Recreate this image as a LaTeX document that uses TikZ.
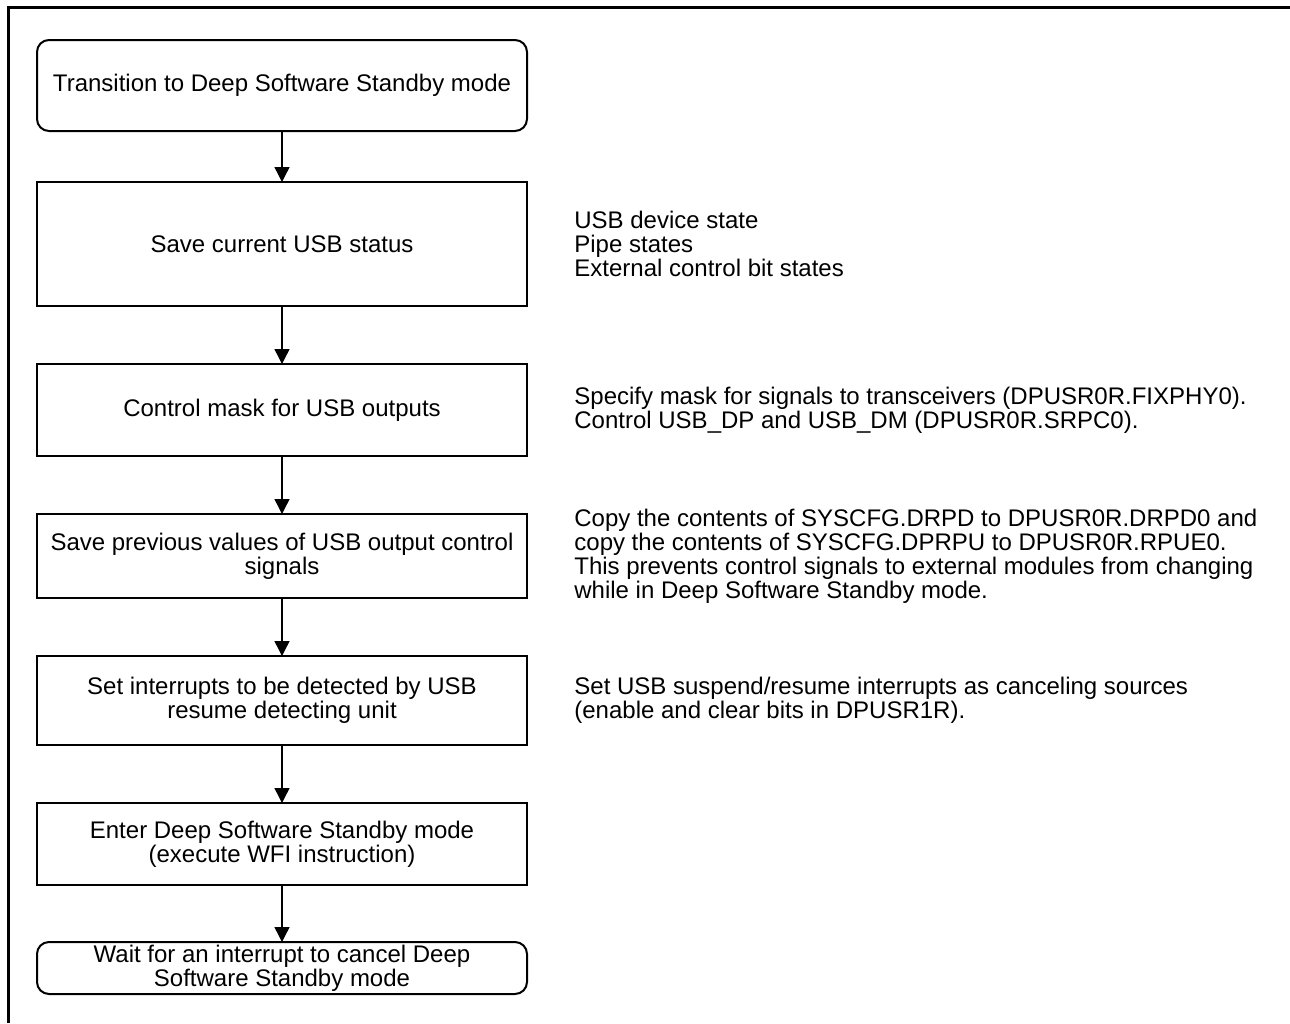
\documentclass[tikz,border=0pt]{standalone}
\usepackage{fontspec}
\setmainfont{Liberation Sans}
\usetikzlibrary{arrows.meta,positioning}

\begin{document}
\begin{tikzpicture}[
  x=0.5pt, y=-0.5pt,
  base/.style={draw, line width=1pt, minimum width=245pt, align=center,
    font=\fontsize{12}{12}\selectfont, inner xsep=2pt, inner ysep=1pt, outer sep=0pt},
  stepbox/.style={base},
  endbox/.style={base, rounded corners=6pt},
  note/.style={align=left, font=\fontsize{12}{12}\selectfont, inner sep=0pt},
  arr/.style={-{Triangle[length=7.5pt, width=7.5pt]}, line width=0.7pt},
  frame/.style={line width=1.5pt},
  node distance=29pt,
]

\useasboundingbox (0,0) rectangle (1290,1023);

% Outer frame (only top and left edges show)
\draw[frame] (8,1023) -- (8,7) -- (1290,7);

% Flow steps
\node[endbox, minimum height=45.5pt] (start) at (282,85.5) {Transition to Deep Software Standby mode};
\node[stepbox, minimum height=62pt, below=25.5pt of start] (save) {Save current USB status};
\node[stepbox, minimum height=46pt, below=of save] (mask) {Control mask for USB outputs};
\node[stepbox, minimum height=42pt, below=of mask] (prev) {Save previous values of USB output control\\signals};
\node[stepbox, minimum height=44.5pt, below=of prev] (intr) {Set interrupts to be detected by USB\\resume detecting unit};
\node[stepbox, minimum height=41pt, below=of intr] (enter) {Enter Deep Software Standby mode\\(execute WFI instruction)};
\node[endbox, minimum height=26pt, below=28.5pt of enter] (wait) {Wait for an interrupt to cancel Deep\\Software Standby mode};

% Arrows
\draw[arr] (start) -- (save);
\draw[arr] (save) -- (mask);
\draw[arr] (mask) -- (prev);
\draw[arr] (prev) -- (intr);
\draw[arr] (intr) -- (enter);
\draw[arr] (enter) -- (wait);

% Notes on the right
\node[note, right=23.5pt of save] (save-note) {USB device state\\Pipe states\\External control bit states};
\node[note, right=23.5pt of mask] (mask-note) {Specify mask for signals to transceivers (DPUSR0R.FIXPHY0).\\Control USB\_DP and USB\_DM (DPUSR0R.SRPC0).};
\node[note, right=23.5pt of prev] (prev-note) {Copy the contents of SYSCFG.DRPD to DPUSR0R.DRPD0 and\\copy the contents of SYSCFG.DPRPU to DPUSR0R.RPUE0.\\This prevents control signals to external modules from changing\\while in Deep Software Standby mode.};
\node[note, right=23.5pt of intr] (intr-note) {Set USB suspend/resume interrupts as canceling sources\\(enable and clear bits in DPUSR1R).};

\end{tikzpicture}
\end{document}
